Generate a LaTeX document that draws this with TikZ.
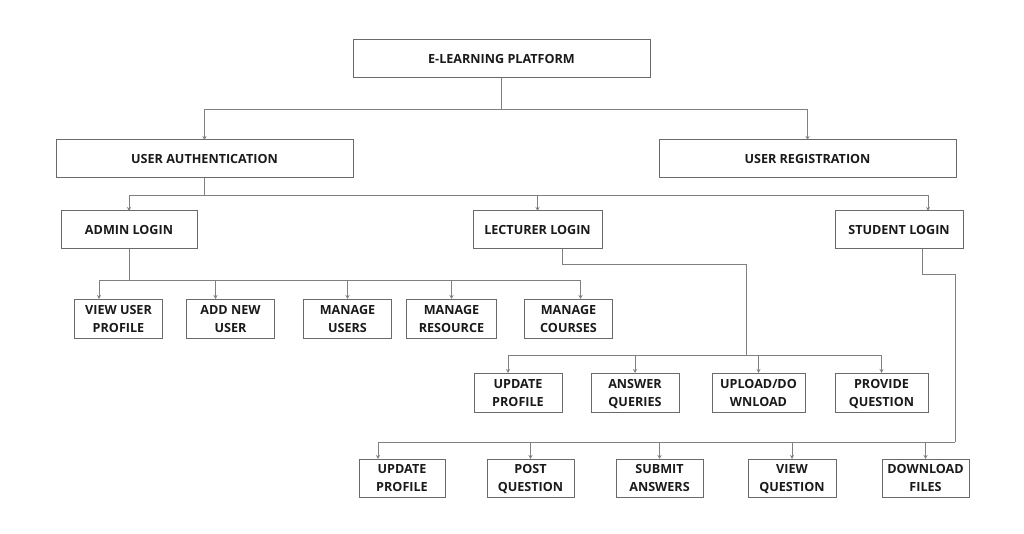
\documentclass[tikz,border=0pt]{standalone}
\usepackage{fontspec}
\setmainfont{Open Sans}
\usetikzlibrary{arrows.meta, positioning}
\definecolor{boxline}{HTML}{6A6A6A}
\definecolor{textdark}{HTML}{1A1A1A}
\tikzset{
    mainbox/.style={rectangle, draw=boxline, line width=1pt, outer sep=0pt, minimum width=297pt, minimum height=38pt, font=\fontsize{12.6}{18}\selectfont\bfseries, text=textdark, align=center},
    loginbox/.style={mainbox, minimum width=128pt},
    taskbox/.style={mainbox, minimum width=88pt, minimum height=39pt, inner sep=2pt, text depth=0pt},
    link/.style={draw=boxline!85, line width=0.9pt},
    arrow/.style={link, -{Stealth[length=4pt,width=4pt]}},
}

\begin{document}
\begin{tikzpicture}[x=1pt, y=-1pt]
\useasboundingbox[fill=white] (0,0) rectangle (1024,534);

% Top levels
\node[mainbox] (elp) at (501.5,59) {E-LEARNING PLATFORM};
\node[mainbox] (ua) at (204.5,159) {USER AUTHENTICATION};
\node[mainbox] (ur) at (807.5,159) {USER REGISTRATION};

% Logins
\node[loginbox, minimum width=136pt] (admin) at (129,230) {ADMIN LOGIN};
\node[loginbox, minimum width=129pt] (lect) at (537.5,230) {LECTURER LOGIN};
\node[loginbox] (stud) at (899,230) {STUDENT LOGIN};

% Admin tasks
\node[taskbox] (vup) at (118.5,318.5) {VIEW USER\\PROFILE};
\node[taskbox, right=24pt of vup] (anu) {ADD NEW\\USER};
\node[taskbox, right=29pt of anu] (mu) {MANAGE\\USERS};
\node[taskbox, minimum width=90pt, right=15pt of mu] (mr) {MANAGE\\RESOURCE};
\node[taskbox, right=28pt of mr] (mc) {MANAGE\\COURSES};

% Lecturer tasks
\node[taskbox] (lup) at (518,392.5) {UPDATE\\PROFILE};
\node[taskbox, right=29pt of lup] (aq) {ANSWER\\QUERIES};
\node[taskbox, minimum width=93pt, right=33pt of aq] (ud) {UPLOAD/DO\\WNLOAD};
\node[taskbox, minimum width=93pt, right=30pt of ud] (pq) {PROVIDE\\QUESTION};

% Student tasks
\node[taskbox, minimum width=86pt, minimum height=38pt] (sup) at (402,478) {UPDATE\\PROFILE};
\node[taskbox, minimum width=87pt, minimum height=38pt, right=42pt of sup] (psq) {POST\\QUESTION};
\node[taskbox, minimum width=87pt, minimum height=38pt, right=42pt of psq] (sa) {SUBMIT\\ANSWERS};
\node[taskbox, minimum width=88pt, minimum height=38pt, right=45pt of sa] (vq) {VIEW\\QUESTION};
\node[taskbox, minimum width=87pt, minimum height=38pt, right=46pt of vq] (df) {DOWNLOAD\\FILES};

% Platform to first level
\draw[link] (elp.south) -- ++(0,31) coordinate (b1);
\draw[arrow] (b1) -| (ua.north);
\draw[arrow] (b1) -| (ur.north);

% Authentication to logins
\draw[link] (ua.south) -- ++(0,17) coordinate (b2);
\draw[arrow] (b2) -| (admin.north);
\draw[arrow] (b2) -| (lect.north);
\draw[arrow] (b2) -| ([xshift=29pt]stud.north);

% Admin branch
\draw[link] (admin.south) -- ++(0,31) coordinate (b3);
\draw[arrow] (b3) -| ([xshift=-19.5pt]vup.north);
\draw[arrow] (b3) -| ([xshift=-15pt]anu.north);
\draw[arrow] (b3) -| (mu.north);
\draw[arrow] (b3) -| (mr.north);
\draw[arrow] (b3) -| ([xshift=12pt]mc.north);

% Lecturer branch
\coordinate (b4) at (746,355);
\draw[link] ([xshift=24.5pt]lect.south) -- ++(0,15) -| (b4);
\draw[arrow] (b4) -| ([xshift=-10pt]lup.north);
\draw[arrow] (b4) -| (aq.north);
\draw[arrow] (b4) -| (ud.north);
\draw[arrow] (b4) -| (pq.north);

% Student branch
\coordinate (b5) at (955,442);
\draw[link] ([xshift=23pt]stud.south) -- ++(0,25) -| (b5);
\draw[arrow] (b5) -| ([xshift=-24pt]sup.north);
\draw[arrow] (b5) -| (psq.north);
\draw[arrow] (b5) -| (sa.north);
\draw[arrow] (b5) -| (vq.north);
\draw[arrow] (b5) -| (df.north);
\end{tikzpicture}
\end{document}
